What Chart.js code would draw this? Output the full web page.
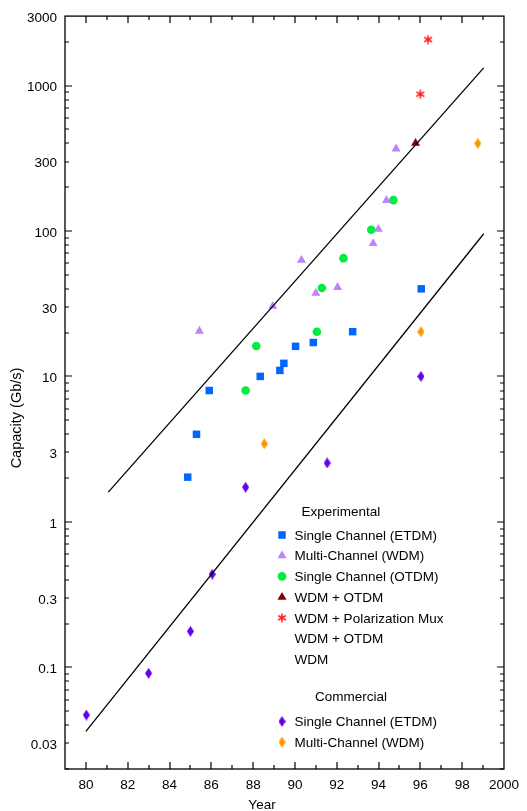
<!DOCTYPE html>
<html>
<head>
<meta charset="utf-8">
<title>Capacity vs Year</title>
<script src="https://cdn.jsdelivr.net/npm/chart.js@4.4.0/dist/chart.umd.min.js"></script>
<style>
  html, body { margin: 0; padding: 0; background: #fff; }
</style>
</head>
<body>
<canvas id="capacityChart" width="527" height="811"></canvas>
<script>
  // Experimental
  const etdmYears = [84.87, 85.29, 85.9, 88.34, 89.28, 89.47, 90.03, 90.88, 92.76, 96.04];
  const etdmCap = [2.03, 4.0, 8.0, 10.0, 11.0, 12.3, 16.1, 17.1, 20.3, 40];
  const wdmYears = [85.43, 88.94, 90.31, 91.0, 92.04, 93.74, 93.99, 94.38, 94.84];
  const wdmCap = [20.5, 30.4, 63, 37.4, 41, 82, 103, 162, 367];
  const otdmYears = [87.64, 88.15, 91.05, 91.29, 92.32, 93.65, 94.71];
  const otdmCap = [8.0, 16.2, 20.3, 40.5, 65, 102, 163];
  const wdmOtdmYears = [95.77];
  const wdmOtdmCap = [401];
  const polMuxYears = [96.0, 96.37];
  const polMuxCap = [871, 2070];

  // Commercial
  const commEtdmYears = [80.02, 83.0, 85.0, 86.04, 87.64, 91.54, 96.03];
  const commEtdmCap = [0.047, 0.091, 0.177, 0.436, 1.73, 2.54, 10];
  const commWdmYears = [88.53, 96.03, 98.75];
  const commWdmCap = [3.44, 20.3, 400];

  // trend lines (end points)
  const upperLineYears = [81.07, 99.03];
  const upperLineCap = [1.6, 1323];
  const lowerLineYears = [80.0, 99.03];
  const lowerLineCap = [0.0363, 95.7];

  const xTickValues = [80, 82, 84, 86, 88, 90, 92, 94, 96, 98, 100];
  const xTickLabels = ['80', '82', '84', '86', '88', '90', '92', '94', '96', '98', '2000'];
  const yTickValues = [3000, 1000, 300, 100, 30, 10, 3, 1, 0.3, 0.1, 0.03];
  const yTickLabels = ['3000', '1000', '300', '100', '30', '10', '3', '1', '0.3', '0.1', '0.03'];

  const expLabels = ['Single Channel (ETDM)', 'Multi-Channel (WDM)', 'Single Channel (OTDM)', 'WDM + OTDM',
    'WDM + Polarization Mux', 'WDM + OTDM', 'WDM'];
  const commLabels = ['Single Channel (ETDM)', 'Multi-Channel (WDM)'];

  const FONT = "'Liberation Sans', Arial, Helvetica, sans-serif";
  Chart.defaults.font.family = FONT;
  Chart.defaults.font.size = 13.5;
  Chart.defaults.color = '#000';

  const pts = (xs, ys) => xs.map((x, i) => ({ x: x, y: ys[i] }));

  function makeDiamond(color) {
    const c = document.createElement('canvas');
    c.width = 7; c.height = 11;
    const g = c.getContext('2d');
    g.fillStyle = color;
    g.beginPath();
    g.moveTo(3.5, 0); g.lineTo(7, 5.5); g.lineTo(3.5, 11); g.lineTo(0, 5.5);
    g.closePath();
    g.fill();
    return c;
  }

  function makeAsterisk(color) {
    const c = document.createElement('canvas');
    c.width = 10; c.height = 10;
    const g = c.getContext('2d');
    g.strokeStyle = color;
    g.lineWidth = 1.5;
    g.beginPath();
    for (let k = 0; k < 3; k++) {
      const a = Math.PI / 2 + k * Math.PI / 3;
      g.moveTo(5 + Math.cos(a) * 4.5, 5 - Math.sin(a) * 4.5);
      g.lineTo(5 - Math.cos(a) * 4.5, 5 + Math.sin(a) * 4.5);
    }
    g.stroke();
    return c;
  }

  const blue = 'rgb(0,102,255)';
  const lilac = 'rgb(190,130,250)';
  const green = 'rgb(0,238,60)';
  const maroon = 'rgb(128,0,0)';
  const red = 'rgb(255,30,30)';
  const violet = 'rgb(100,0,240)';
  const orange = 'rgb(255,150,0)';

  const violetDiamond = makeDiamond(violet);
  const orangeDiamond = makeDiamond(orange);
  const redStar = makeAsterisk(red);

  // marker styles shared by plot and legend
  const markers = {
    etdm: { pointStyle: 'rect', radius: 5.3, color: blue },
    wdm: { pointStyle: 'triangle', radius: 5.2, color: lilac },
    otdm: { pointStyle: 'circle', radius: 4.3, color: green },
    wdmOtdm: { pointStyle: 'triangle', radius: 5.2, color: maroon },
    polMux: { pointStyle: redStar, radius: 5, color: red },
    commEtdm: { pointStyle: violetDiamond, radius: 5, color: violet },
    commWdm: { pointStyle: orangeDiamond, radius: 5, color: orange }
  };

  function scatterSet(label, data, m) {
    return {
      label: label,
      data: data,
      pointStyle: m.pointStyle,
      pointRadius: m.radius,
      pointBackgroundColor: m.color,
      pointBorderColor: m.color,
      pointBorderWidth: 0,
      showLine: false
    };
  }

  function lineSet(data) {
    return {
      label: '',
      data: data,
      showLine: true,
      borderColor: '#000',
      borderWidth: 1.3,
      pointRadius: 0,
      fill: false
    };
  }

  // box, inward ticks on all four sides, axis titles
  const frameTicks = {
    id: 'frameTicks',
    afterDraw(chart) {
      const ctx = chart.ctx;
      const a = chart.chartArea;
      const x = chart.scales.x;
      const y = chart.scales.y;
      ctx.save();
      ctx.strokeStyle = '#000';
      ctx.lineWidth = 1.2;
      ctx.beginPath();
      for (let yr = 80; yr < 100; yr++) {
        const px = Math.round(x.getPixelForValue(yr));
        const len = yr % 2 === 0 ? 7 : 4;
        ctx.moveTo(px, a.bottom);
        ctx.lineTo(px, a.bottom - len);
        ctx.moveTo(px, a.top);
        ctx.lineTo(px, a.top + len);
      }
      for (let e = -2; e <= 3; e++) {
        for (let m = 1; m <= 9; m++) {
          const v = m * Math.pow(10, e);
          if (v < 0.0199 || v > 2999) continue;
          const py = Math.round(y.getPixelForValue(v));
          const len = m === 1 ? 7 : 4;
          ctx.moveTo(a.left, py);
          ctx.lineTo(a.left + len, py);
          ctx.moveTo(a.right, py);
          ctx.lineTo(a.right - len, py);
        }
      }
      ctx.stroke();
      ctx.lineWidth = 1.3;
      ctx.strokeRect(a.left, a.top, a.right - a.left, a.bottom - a.top);

      ctx.fillStyle = '#000';
      ctx.textAlign = 'center';
      ctx.textBaseline = 'middle';
      ctx.font = '13.5px ' + FONT;
      ctx.fillText('Year', 262, 805);
      ctx.translate(17, 418);
      ctx.rotate(-Math.PI / 2);
      ctx.font = '14.5px ' + FONT;
      ctx.fillText('Capacity (Gb/s)', 0, 0);
      ctx.restore();
    }
  };

  function drawMarker(ctx, m, x, y) {
    ctx.fillStyle = m.color;
    ctx.strokeStyle = m.color;
    Chart.helpers.drawPoint(ctx, { pointStyle: m.pointStyle, radius: m.radius, rotation: 0, borderWidth: 0 }, x, y);
  }

  const boxLegend = {
    id: 'boxLegend',
    afterDraw(chart) {
      const ctx = chart.ctx;
      const expMarkers = [markers.etdm, markers.wdm, markers.otdm, markers.wdmOtdm, markers.polMux, null, null];
      const commMarkers = [markers.commEtdm, markers.commWdm];
      const rowH = 20.7;
      ctx.save();
      ctx.font = '13.5px ' + FONT;
      ctx.textBaseline = 'middle';
      ctx.textAlign = 'left';
      ctx.fillStyle = '#000';
      ctx.fillText('Experimental', 301.5, 512);
      expLabels.forEach((t, i) => {
        const yy = 536 + i * rowH;
        ctx.fillStyle = '#000';
        ctx.fillText(t, 294.5, yy);
        if (expMarkers[i]) drawMarker(ctx, expMarkers[i], 282, yy - 1);
      });
      ctx.fillStyle = '#000';
      ctx.fillText('Commercial', 315, 697.5);
      commLabels.forEach((t, i) => {
        const yy = 722.5 + i * rowH;
        ctx.fillStyle = '#000';
        ctx.fillText(t, 294.5, yy);
        drawMarker(ctx, commMarkers[i], 282, yy - 1);
      });
      ctx.restore();
    }
  };

  new Chart(document.getElementById('capacityChart'), {
    type: 'scatter',
    data: {
      datasets: [
        lineSet(pts(upperLineYears, upperLineCap)),
        lineSet(pts(lowerLineYears, lowerLineCap)),
        scatterSet('Single Channel (ETDM)', pts(etdmYears, etdmCap), markers.etdm),
        scatterSet('Multi-Channel (WDM)', pts(wdmYears, wdmCap), markers.wdm),
        scatterSet('Single Channel (OTDM)', pts(otdmYears, otdmCap), markers.otdm),
        scatterSet('WDM + OTDM', pts(wdmOtdmYears, wdmOtdmCap), markers.wdmOtdm),
        scatterSet('WDM + Polarization Mux', pts(polMuxYears, polMuxCap), markers.polMux),
        scatterSet('Commercial Single Channel (ETDM)', pts(commEtdmYears, commEtdmCap), markers.commEtdm),
        scatterSet('Commercial Multi-Channel (WDM)', pts(commWdmYears, commWdmCap), markers.commWdm)
      ]
    },
    options: {
      responsive: false,
      animation: false,
      layout: { padding: { top: 15, right: 14, left: 0, bottom: 0 } },
      plugins: {
        legend: { display: false },
        tooltip: { enabled: false }
      },
      scales: {
        x: {
          type: 'linear',
          min: 79,
          max: 100,
          grid: { display: false, drawTicks: false },
          border: { display: false },
          afterBuildTicks: s => { s.ticks = xTickValues.map(v => ({ value: v })); },
          afterFit: s => { s.height = 42; },
          ticks: {
            padding: 8,
            maxRotation: 0,
            autoSkip: false,
            callback: (v, i) => xTickLabels[i]
          }
        },
        y: {
          type: 'logarithmic',
          min: 0.02,
          max: 3000,
          grid: { display: false, drawTicks: false },
          border: { display: false },
          afterBuildTicks: s => { s.ticks = yTickValues.map(v => ({ value: v })); },
          afterFit: s => { s.width = 65; },
          ticks: {
            padding: 8,
            labelOffset: 2,
            autoSkip: false,
            callback: (v, i) => yTickLabels[i]
          }
        }
      }
    },
    plugins: [frameTicks, boxLegend]
  });
</script>
</body>
</html>
